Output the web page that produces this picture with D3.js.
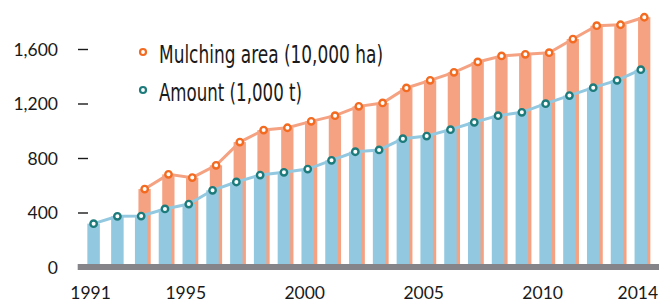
<!DOCTYPE html>
<html>
<head>
<meta charset="utf-8">
<script src="https://cdn.jsdelivr.net/npm/d3@7"></script>
<style>
  body { margin: 0; background: #fff; }
  svg { display: block; }
  text { font-family: "Liberation Sans Narrow", "DejaVu Sans Condensed", "Liberation Sans", sans-serif; fill: #1a1a1a; }
  .tick text { font-family: Lato, "Liberation Sans", sans-serif; }
</style>
</head>
<body>
<svg id="drawing_region" width="672" height="306"></svg>
<script>
// years on the x axis
var years = d3.range(1991, 2015);
// mulching area, 10,000 ha (no data 1991-1992)
var area = [null, null, 572, 680, 656, 746, 917, 1005, 1022, 1069, 1111, 1179,
            1204, 1314, 1370, 1429, 1505, 1549, 1561, 1573, 1673, 1771, 1778, 1833];
// amount, 1,000 t
var amount = [318, 372, 374, 426, 462, 563, 624, 675, 695, 719, 783, 846,
              859, 942, 961, 1008, 1062, 1111, 1135, 1199, 1258, 1316, 1370, 1448];
var yTicks = [0, 400, 800, 1200, 1600];
var xTicks = [1991, 1995, 2000, 2005, 2010, 2014];

var legendItems = [
  { label: 'Mulching area (10,000 ha)', color: '#f26b21', len: 224 },
  { label: 'Amount (1,000 t)', color: '#1e7b7b', len: 143 }
];

var svg = d3.select('#drawing_region');

var x = d3.scaleBand()
    .domain(years)
    .range([81.7, 652.7])
    .paddingInner(0.475)
    .paddingOuter(0.2375);
var bw = x.bandwidth();
var shift = 3.5;   // orange bar sits a little to the right

var y = d3.scaleLinear()
    .domain([0, 1600])
    .range([267, 49]);

var rows = years.map((yr, i) => ({ year: yr, area: area[i], amount: amount[i] }));

// y axis
var yAxis = svg.append('g')
    .attr('transform', 'translate(88,0)')
    .call(d3.axisLeft(y).tickValues(yTicks).tickFormat(d3.format(',')).tickSize(10).tickPadding(20));
yAxis.select('.domain').remove();
yAxis.selectAll('line').attr('stroke', '#1a1a1a').attr('stroke-width', 1.4);
yAxis.selectAll('text').attr('font-size', 17.5).attr('dy', '0.35em');

// x axis labels
var xAxis = svg.append('g')
    .attr('transform', 'translate(-3,282)')
    .call(d3.axisBottom(x).tickValues(xTicks).tickSize(0).tickPadding(0));
xAxis.select('.domain').remove();
xAxis.selectAll('text').attr('font-size', 17.5).attr('dy', '0.95em');

// bars
svg.append('g').selectAll('rect')
    .data(rows.filter(d => d.area != null))
    .join('rect')
    .attr('x', d => x(d.year) + shift)
    .attr('y', d => y(d.area))
    .attr('width', bw - 0.2)
    .attr('height', d => y(0) - y(d.area))
    .attr('fill', '#f5a282');

svg.append('g').selectAll('rect')
    .data(rows)
    .join('rect')
    .attr('x', d => x(d.year))
    .attr('y', d => y(d.amount))
    .attr('width', bw)
    .attr('height', d => y(0) - y(d.amount))
    .attr('fill', '#92c8e0');

// baseline
svg.append('line')
    .attr('x1', 77.7).attr('x2', 659)
    .attr('y1', y(0)).attr('y2', y(0))
    .attr('stroke', '#858589')
    .attr('stroke-width', 6);

// lines
var areaLine = d3.line()
    .defined(d => d.area != null)
    .x(d => x(d.year) + shift + bw / 2)
    .y(d => y(d.area));
var amountLine = d3.line()
    .x(d => x(d.year) + bw / 2)
    .y(d => y(d.amount));

svg.append('path')
    .datum(rows)
    .attr('d', areaLine)
    .attr('fill', 'none')
    .attr('stroke', '#f5a282')
    .attr('stroke-width', 3);

svg.append('path')
    .datum(rows)
    .attr('d', amountLine)
    .attr('fill', 'none')
    .attr('stroke', '#92c8e0')
    .attr('stroke-width', 3);

// points
svg.append('g').selectAll('circle')
    .data(rows.filter(d => d.area != null))
    .join('circle')
    .attr('cx', d => x(d.year) + shift + bw / 2)
    .attr('cy', d => y(d.area))
    .attr('r', 3.2)
    .attr('fill', '#fff')
    .attr('stroke', '#f26b21')
    .attr('stroke-width', 2.4);

svg.append('g').selectAll('circle')
    .data(rows)
    .join('circle')
    .attr('cx', d => x(d.year) + bw / 2)
    .attr('cy', d => y(d.amount))
    .attr('r', 3.2)
    .attr('fill', '#fff')
    .attr('stroke', '#1e7b7b')
    .attr('stroke-width', 2.4);

// legend
var legend = svg.append('g').selectAll('g')
    .data(legendItems)
    .join('g')
    .attr('transform', (d, i) => `translate(143,${52 + i * 38})`);
legend.append('circle')
    .attr('r', 3)
    .attr('fill', '#fff')
    .attr('stroke', d => d.color)
    .attr('stroke-width', 2.2);
legend.append('text')
    .attr('x', 16)
    .attr('y', 10.5)
    .attr('font-size', 24)
    .attr('textLength', d => d.len)
    .attr('lengthAdjust', 'spacingAndGlyphs')
    .text(d => d.label);
</script>
</body>
</html>
